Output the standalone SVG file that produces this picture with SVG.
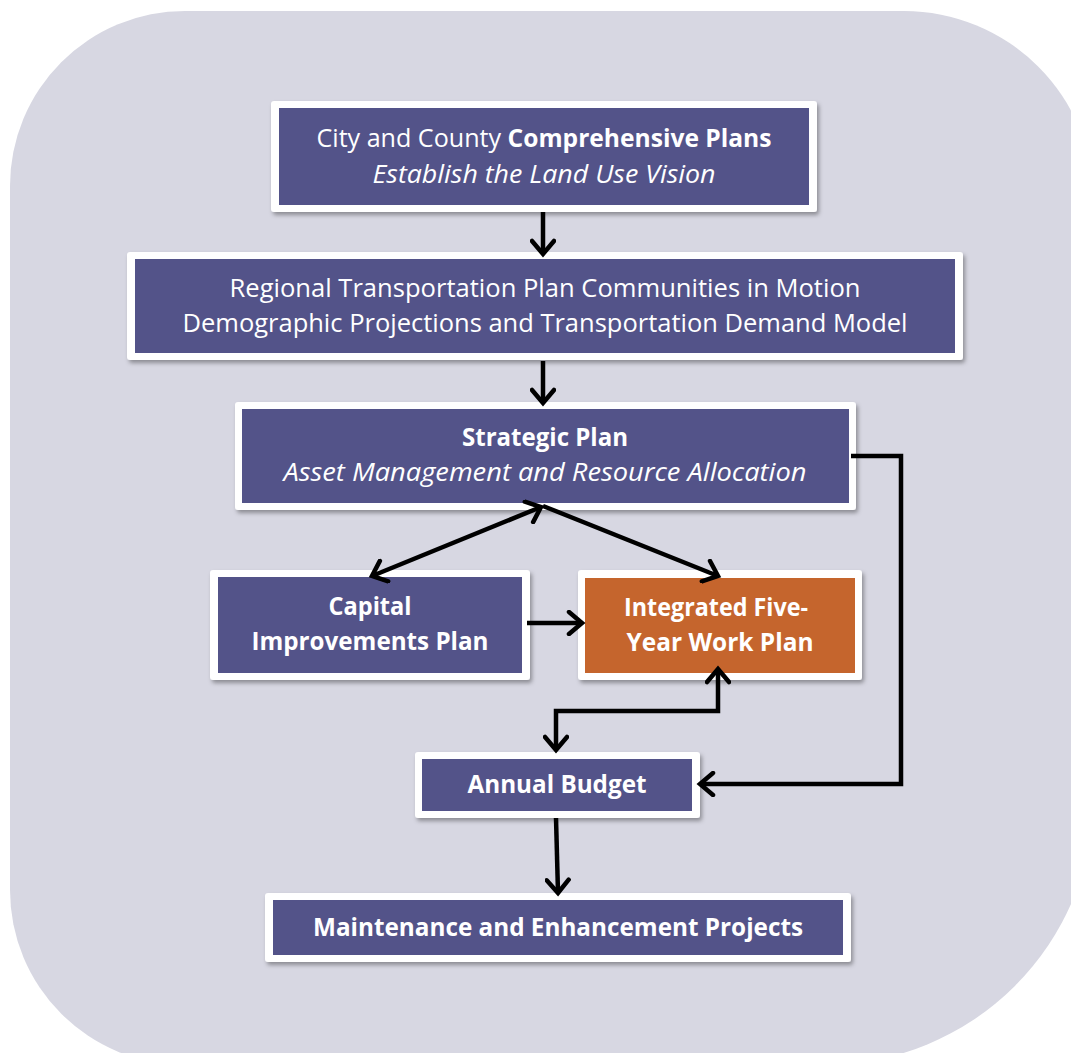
<svg xmlns="http://www.w3.org/2000/svg" width="1071" height="1053" viewBox="0 0 1071 1053">
<defs>
<filter id="sh" x="-10%" y="-20%" width="120%" height="150%">
<feDropShadow dx="2" dy="3" stdDeviation="2" flood-color="#000" flood-opacity="0.35"/>
</filter>
<marker id="ah" viewBox="0 0 20 26" refX="16" refY="13" markerWidth="20" markerHeight="26" markerUnits="userSpaceOnUse" orient="auto-start-reverse">
<path d="M3,2 L16,13 L3,24" fill="none" stroke="#000" stroke-width="4.5" stroke-linecap="round" stroke-linejoin="miter"/>
</marker>
</defs>
<style>
.frame{fill:#fff;filter:url(#sh)}
.blue{fill:#535389}
.orange{fill:#c5652d}
text{font-family:"Open Sans","Liberation Sans",sans-serif;font-size:25px;fill:#fff;text-anchor:middle}
.b{font-weight:bold;font-size:24.5px}
.i{font-style:italic}
.conn{fill:none;stroke:#000;stroke-width:4.5;stroke-linejoin:miter}
</style>
<path d="M10,186 A175,175 0 0 1 185,11 L904,11 A190,190 0 0 1 1094,201 L1094,795 A270,270 0 0 1 824,1065 L185,1065 A175,175 0 0 1 10,890 Z" fill="#d7d7e2"/>

<g id="n1">
<rect class="frame" x="271" y="101" width="546" height="111" rx="3"/>
<rect class="blue" x="279" y="108" width="530" height="97"/>
<text x="544" y="147" textLength="455" lengthAdjust="spacingAndGlyphs">City and County <tspan class="b">Comprehensive Plans</tspan></text>
<text class="i" x="544" y="183" textLength="343" lengthAdjust="spacingAndGlyphs">Establish the Land Use Vision</text>
</g>

<g id="n2">
<rect class="frame" x="127" y="252" width="836" height="108" rx="3"/>
<rect class="blue" x="135" y="259" width="820" height="94"/>
<text x="545" y="297" textLength="631" lengthAdjust="spacingAndGlyphs">Regional Transportation Plan Communities in Motion</text>
<text x="545" y="332" textLength="725" lengthAdjust="spacingAndGlyphs">Demographic Projections and Transportation Demand Model</text>
</g>

<g id="n3">
<rect class="frame" x="235" y="402" width="621" height="108" rx="3"/>
<rect class="blue" x="242" y="409" width="607" height="94"/>
<text class="b" x="545" y="446" textLength="166" lengthAdjust="spacingAndGlyphs">Strategic Plan</text>
<text class="i" x="545" y="481" textLength="523" lengthAdjust="spacingAndGlyphs">Asset Management and Resource Allocation</text>
</g>

<g id="n4">
<rect class="frame" x="210" y="570" width="320" height="110" rx="3"/>
<rect class="blue" x="218" y="577" width="304" height="96"/>
<text class="b" x="370" y="615" textLength="83" lengthAdjust="spacingAndGlyphs">Capital</text>
<text class="b" x="370" y="650" textLength="237" lengthAdjust="spacingAndGlyphs">Improvements Plan</text>
</g>

<g id="n5">
<rect class="frame" x="578" y="570" width="284" height="110" rx="3"/>
<rect class="orange" x="585" y="578" width="270" height="95"/>
<text class="b" x="716" y="616" textLength="184" lengthAdjust="spacingAndGlyphs">Integrated Five-</text>
<text class="b" x="720" y="651" textLength="187" lengthAdjust="spacingAndGlyphs">Year Work Plan</text>
</g>

<g id="n6">
<rect class="frame" x="415" y="752" width="285" height="66" rx="3"/>
<rect class="blue" x="422" y="759" width="270" height="52"/>
<text class="b" x="557" y="793" textLength="179" lengthAdjust="spacingAndGlyphs">Annual Budget</text>
</g>

<g id="n7">
<rect class="frame" x="265" y="893" width="586" height="69" rx="3"/>
<rect class="blue" x="273" y="900" width="570" height="55"/>
<text class="b" x="558" y="936" textLength="490" lengthAdjust="spacingAndGlyphs">Maintenance and Enhancement Projects</text>
</g>

<g id="connectors">
<path class="conn" d="M543,212 L543,254" marker-end="url(#ah)"/>
<path class="conn" d="M543,361 L543,403" marker-end="url(#ah)"/>
<path class="conn" d="M541,507 L372,576" marker-start="url(#ah)" marker-end="url(#ah)"/>
<path class="conn" d="M543,506 L718,576" marker-end="url(#ah)"/>
<path class="conn" d="M527,623 L582,623" marker-end="url(#ah)"/>
<path class="conn" d="M718,669 L718,711 L556,711 L556,750" marker-start="url(#ah)" marker-end="url(#ah)"/>
<path class="conn" d="M851,456 L901,456 L901,784 L700,784" marker-end="url(#ah)"/>
<path class="conn" d="M556,818 L558,893" marker-end="url(#ah)"/>
</g>
</svg>
